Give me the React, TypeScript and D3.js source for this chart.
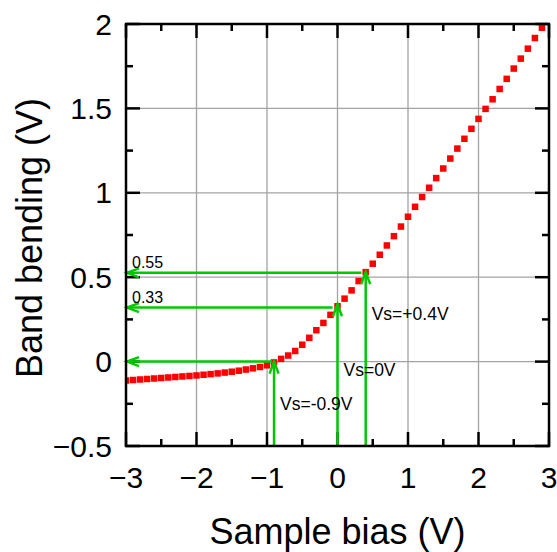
import React from "react";
import * as d3 from "d3";

// sample bias (V), one point every 0.1 V
const biasValues = [
  -3.0, -2.9, -2.8, -2.7, -2.6, -2.5, -2.4, -2.3, -2.2, -2.1,
  -2.0, -1.9, -1.8, -1.7, -1.6, -1.5, -1.4, -1.3, -1.2, -1.1,
  -1.0, -0.9, -0.8, -0.7, -0.6, -0.5, -0.4, -0.3, -0.2, -0.1,
  0.0, 0.1, 0.2, 0.3, 0.4, 0.5, 0.6, 0.7, 0.8, 0.9,
  1.0, 1.1, 1.2, 1.3, 1.4, 1.5, 1.6, 1.7, 1.8, 1.9,
  2.0, 2.1, 2.2, 2.3, 2.4, 2.5, 2.6, 2.7, 2.8, 2.9,
];
// band bending (V)
const bendingValues = [
  -0.112, -0.109, -0.106, -0.103, -0.1, -0.097, -0.094, -0.091, -0.088, -0.085,
  -0.082, -0.078, -0.074, -0.07, -0.065, -0.06, -0.054, -0.047, -0.04, -0.032,
  -0.022, -0.005, 0.016, 0.036, 0.063, 0.1, 0.141, 0.186, 0.229, 0.277,
  0.328, 0.373, 0.422, 0.477, 0.53, 0.58, 0.633, 0.688, 0.743, 0.8,
  0.858, 0.917, 0.975, 1.03, 1.087, 1.144, 1.203, 1.262, 1.32, 1.379,
  1.438, 1.497, 1.554, 1.615, 1.675, 1.736, 1.795, 1.854, 1.917, 1.978,
];

const xTicks = [-3, -2, -1, 0, 1, 2, 3];
const xTickLabels = ["\u22123", "\u22122", "\u22121", "0", "1", "2", "3"];
const yTicks = [-0.5, 0, 0.5, 1, 1.5, 2];
const yTickLabels = ["\u22120.5", "0", "0.5", "1", "1.5", "2"];

// green arrow annotations
const arrowBias = [-0.9, 0, 0.4];
const arrowTipY = [0.0, 0.34, 0.53];
const arrowLevelY = [0.0, 0.32, 0.526];
const arrowStartX = [-0.93, -0.07, 0.34];
const levelLabels = ["", "0.33", "0.55"];
const biasLabels = ["Vs=-0.9V", "Vs=0V", "Vs=+0.4V"];
const biasLabelY = [-0.285, -0.085, 0.245];

const W = 557;
const H = 552;
const left = 126;
const right = 549;
const top = 24;
const bottom = 446;
const font = "'Liberation Sans', Arial, Helvetica, sans-serif";
const green = "#00c800";

function App() {
  const x = d3.scaleLinear([-3, 3], [left, right]);
  const y = d3.scaleLinear([-0.5, 2], [bottom, top]);
  const data = biasValues.map((b, i) => ({ b, v: bendingValues[i] }));

  const minorX = d3.range(-2.5, 3, 1);
  const minorY = d3.range(-0.25, 2, 0.5);
  const major = 14;
  const minor = 7;

  const head = (tx, ty, dir) => {
    // open chevron, dir: "left" or "up"
    const l = 12, w = 4.5;
    if (dir === "left") return `M${tx + l},${ty - w}L${tx},${ty}L${tx + l},${ty + w}`;
    return `M${tx - w},${ty + l}L${tx},${ty}L${tx + w},${ty + l}`;
  };

  return (
    <svg width={W} height={H} style={{ position: "absolute", left: 0, top: 0, background: "#fff" }}
      fontFamily={font}>
      <defs>
        <clipPath id="plot-clip">
          <rect x={left} y={top} width={right - left} height={bottom - top} />
        </clipPath>
      </defs>

      {/* grid */}
      <g stroke="#a3a3a3" strokeWidth={1.3}>
        {xTicks.slice(1, -1).map(t => (
          <line key={"gx" + t} x1={x(t)} x2={x(t)} y1={top} y2={bottom} />
        ))}
        {yTicks.slice(1, -1).map(t => (
          <line key={"gy" + t} x1={left} x2={right} y1={y(t)} y2={y(t)} />
        ))}
      </g>

      {/* ticks, inward on all sides */}
      <g stroke="#000" strokeWidth={2.5}>
        {xTicks.map(t => (
          <g key={"tx" + t}>
            <line x1={x(t)} x2={x(t)} y1={bottom} y2={bottom - major} />
            <line x1={x(t)} x2={x(t)} y1={top} y2={top + major} />
          </g>
        ))}
        {minorX.map(t => (
          <g key={"mx" + t}>
            <line x1={x(t)} x2={x(t)} y1={bottom} y2={bottom - minor} />
            <line x1={x(t)} x2={x(t)} y1={top} y2={top + minor} />
          </g>
        ))}
        {yTicks.map(t => (
          <g key={"ty" + t}>
            <line x1={left} x2={left + major} y1={y(t)} y2={y(t)} />
            <line x1={right} x2={right - major} y1={y(t)} y2={y(t)} />
          </g>
        ))}
        {minorY.map(t => (
          <g key={"my" + t}>
            <line x1={left} x2={left + minor} y1={y(t)} y2={y(t)} />
            <line x1={right} x2={right - minor} y1={y(t)} y2={y(t)} />
          </g>
        ))}
      </g>

      {/* data */}
      <g clipPath="url(#plot-clip)" fill="#ff0000">
        {data.map(d => (
          <rect key={d.b} x={x(d.b) - 3.25} y={y(d.v) - 3.25} width={6.5} height={6.5} />
        ))}
      </g>

      {/* arrows */}
      <g stroke={green} strokeWidth={2.5} fill="none">
        {arrowBias.map((b, i) => (
          <g key={"ar" + i}>
            <line x1={x(arrowStartX[i])} x2={left + 1} y1={y(arrowLevelY[i])} y2={y(arrowLevelY[i])} />
            <path d={head(left + 1, y(arrowLevelY[i]), "left")} />
            <line x1={x(b)} x2={x(b)} y1={bottom} y2={y(arrowTipY[i])} />
            <path d={head(x(b), y(arrowTipY[i]), "up")} />
          </g>
        ))}
      </g>

      <g fill="#000">
        {levelLabels.map((s, i) => s && (
          <text key={"ll" + i} x={left + 6} y={y(arrowLevelY[i]) - 5} fontSize={16}>{s}</text>
        ))}
        {biasLabels.map((s, i) => (
          <text key={"bl" + i} x={x(arrowBias[i]) + 6} y={y(biasLabelY[i])} fontSize={17.5}>{s}</text>
        ))}
      </g>

      {/* frame */}
      <rect x={left} y={top} width={right - left} height={bottom - top}
        fill="none" stroke="#000" strokeWidth={2.5} />

      {/* tick labels */}
      <g fontSize={30} fill="#000">
        {xTicks.map((t, i) => (
          <text key={"xl" + t} x={x(t)} y={488} textAnchor="middle">{xTickLabels[i]}</text>
        ))}
        {yTicks.map((t, i) => (
          <text key={"yl" + t} x={112} y={y(t)} dy="0.35em" textAnchor="end">{yTickLabels[i]}</text>
        ))}
      </g>

      {/* axis titles */}
      <text x={(left + right) / 2} y={544} textAnchor="middle" fontSize={36}>Sample bias (V)</text>
      <text transform={`translate(42,${(top + bottom) / 2 + 3}) rotate(-90)`} textAnchor="middle"
        fontSize={36}>Band bending (V)</text>
    </svg>
  );
}

export default App;
